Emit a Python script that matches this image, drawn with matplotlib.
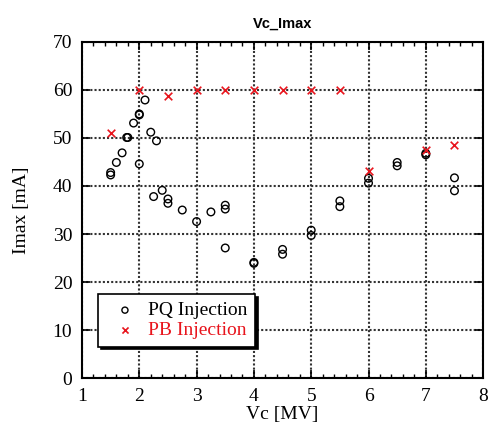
import matplotlib
matplotlib.use("Agg")
import matplotlib.pyplot as plt
from matplotlib.ticker import MultipleLocator

# PQ injection data
pq_vc = [1.5, 1.5, 1.6, 1.7, 1.78, 1.8, 1.9, 2.0, 2.0, 2.0, 2.1, 2.2, 2.25, 2.3, 2.4,
         2.5, 2.5, 2.75, 3.0, 3.25, 3.5, 3.5, 3.5, 4.0, 4.0, 4.5, 4.5, 5.0, 5.0,
         5.5, 5.5, 6.0, 6.0, 6.5, 6.5, 7.0, 7.0, 7.5, 7.5]
pq_imax = [42.8, 42.3, 44.9, 46.9, 50.1, 50.1, 53.1, 55.0, 54.8, 44.6, 57.9, 51.2, 37.8, 49.4, 39.1,
           37.3, 36.4, 35.0, 32.6, 34.6, 36.0, 35.2, 27.1, 24.1, 23.9, 26.8, 25.8, 30.8, 29.7,
           36.9, 35.7, 41.6, 40.6, 44.9, 44.2, 46.8, 46.5, 41.7, 39.0]

# PB injection data
pb_vc = [1.5, 2.0, 2.5, 3.0, 3.5, 4.0, 4.5, 5.0, 5.5, 6.0, 7.0, 7.5]
pb_imax = [51.0, 60.0, 58.8, 60.0, 60.0, 60.0, 60.0, 60.0, 60.0, 43.1, 47.5, 48.5]

serif = ["Liberation Serif", "DejaVu Serif"]
plt.rcParams["font.family"] = serif

fig = plt.figure(figsize=(4.88, 4.23), dpi=100)
ax = fig.add_axes([0.168, 0.106, 0.822, 0.795])

ax.scatter(pq_vc, pq_imax, s=30, facecolors="none", edgecolors="black", linewidths=1.0,
           label="PQ Injection", zorder=3)
ax.scatter(pb_vc, pb_imax, s=30, marker="x", color="#e8141c", linewidths=1.2,
           label="PB Injection", zorder=4)

ax.set_xlim(1, 8)
ax.set_ylim(0, 70)
ax.xaxis.set_major_locator(MultipleLocator(1))
ax.xaxis.set_minor_locator(MultipleLocator(0.2))
ax.yaxis.set_major_locator(MultipleLocator(10))
ax.tick_params(which="both", direction="in", top=True, right=True)
ax.tick_params(which="major", length=6, width=1.2, pad=7)
ax.tick_params(which="minor", length=3, width=1.0)
ax.tick_params(axis="both", which="major", labelsize=14)
for sp in ax.spines.values():
    sp.set_linewidth(1.5)
ax.set_axisbelow(True)
ax.grid(True, which="major", axis="both", color="#333333", linestyle=(0, (1.0, 1.0)), linewidth=1.5)

ax.set_xlabel("Vc [MV]", fontsize=14, labelpad=1)
ax.set_ylabel("Imax [mA]", fontsize=14, labelpad=16)
ax.set_title("Vc_Imax", fontsize=10.5, fontweight="bold", family=["Liberation Sans", "DejaVu Sans"], pad=10)

leg = ax.legend(loc="lower left", bbox_to_anchor=(0.015, 0.065), prop={"size": 14},
                frameon=True, fancybox=False, shadow={"color": "black", "alpha": 1.0},
                edgecolor="black", handletextpad=0.2, borderpad=0.4, labelspacing=0.1,
                markerscale=0.8, framealpha=1.0)
leg.get_frame().set_linewidth(1.2)
leg.get_texts()[1].set_color("#e8141c")

fig.savefig("out.png", dpi=100)
